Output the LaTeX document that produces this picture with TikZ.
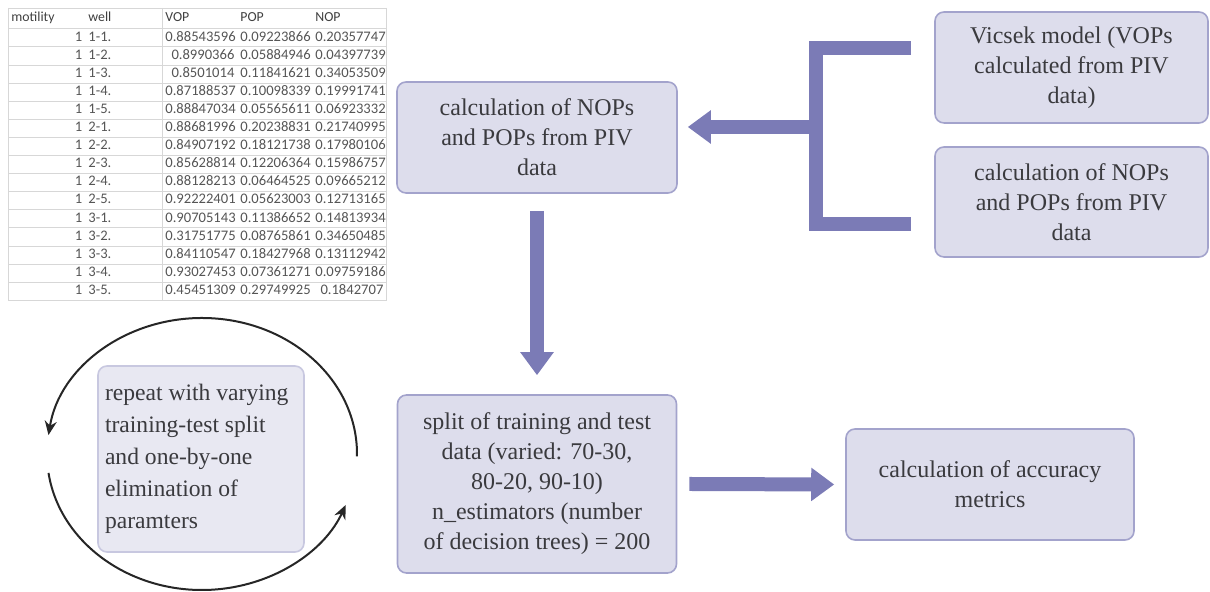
\documentclass[tikz,border=0pt]{standalone}
\usepackage{fontspec}
\setmainfont{Liberation Serif}
\newfontfamily\cellfont{Carlito}
\usepackage{tikz}
\usetikzlibrary{matrix,arrows.meta}

\definecolor{boxfill}{RGB}{221,221,236}
\definecolor{boxline}{RGB}{163,163,204}
\definecolor{loopfill}{RGB}{232,232,242}
\definecolor{loopline}{RGB}{200,200,224}
\definecolor{flow}{RGB}{123,123,182}
\definecolor{boxtext}{RGB}{58,58,62}
\definecolor{celltext}{RGB}{85,85,85}
\definecolor{gridline}{RGB}{215,215,215}

\tikzset{
  stage/.style={draw=boxline, fill=boxfill, line width=0.8pt, rounded corners=4.5pt,
    inner sep=0pt, text=boxtext, align=center, font=\fontsize{12}{15}\selectfont},
  fat/.style={draw=flow, line width=7pt, -{Triangle[length=11.5pt,width=16pt]}},
  bracket/.style={draw=flow, line width=7pt, line join=miter},
  loop/.style={draw=black!85, line width=1pt, ->},
  grid/.style={draw=gridline, line width=0.4pt},
}

\begin{document}
\begin{tikzpicture}[>={Stealth[length=7pt,width=6pt]}, x=0.5pt, y=0.5pt]
    \useasboundingbox (0,0) rectangle (1210,592);

    % data table
    \matrix (tbl) [%
      matrix of nodes,
      anchor=north west,
      inner sep=0pt,
      row sep=0pt,
      column sep=0pt,
      nodes={inner xsep=1.5pt, inner ysep=0pt, minimum height=9.05pt,
        text height=5pt, text depth=1.4pt, text=celltext, align=right,
        font=\cellfont\fontsize{7.3}{8}\selectfont},
      column 1/.style={nodes={text width=35.5pt}},
      column 2/.style={nodes={text width=35.5pt, align=left}},
      column 3/.style={nodes={text width=34.5pt}},
      column 4/.style={nodes={text width=34.5pt}},
      column 5/.style={nodes={text width=34pt}},
      row 1/.style={nodes={align=left, minimum height=10pt, text=black!75,
        font=\cellfont\fontsize{6.9}{8}\selectfont}},
    ] at (8,584)
    {
      motility & well & VOP & POP & NOP \\
      1 & 1-1. & 0.88543596 & 0.09223866 & 0.20357747 \\
      1 & 1-2. & 0.8990366 & 0.05884946 & 0.04397739 \\
      1 & 1-3. & 0.8501014 & 0.11841621 & 0.34053509 \\
      1 & 1-4. & 0.87188537 & 0.10098339 & 0.19991741 \\
      1 & 1-5. & 0.88847034 & 0.05565611 & 0.06923332 \\
      1 & 2-1. & 0.88681996 & 0.20238831 & 0.21740995 \\
      1 & 2-2. & 0.84907192 & 0.18121738 & 0.17980106 \\
      1 & 2-3. & 0.85628814 & 0.12206364 & 0.15986757 \\
      1 & 2-4. & 0.88128213 & 0.06464525 & 0.09665212 \\
      1 & 2-5. & 0.92222401 & 0.05623003 & 0.12713165 \\
      1 & 3-1. & 0.90705143 & 0.11386652 & 0.14813934 \\
      1 & 3-2. & 0.31751775 & 0.08765861 & 0.34650485 \\
      1 & 3-3. & 0.84110547 & 0.18427968 & 0.13112942 \\
      1 & 3-4. & 0.93027453 & 0.07361271 & 0.09759186 \\
      1 & 3-5. & 0.45451309 & 0.29749925 & 0.1842707 \\
    };
    \draw[grid] (tbl-1-1.north west) -- (tbl-1-5.north east);
    \foreach \r in {1,...,16}
      \draw[grid] (tbl-\r-1.south west) -- (tbl-\r-5.south east);
    \draw[grid] (tbl-1-1.north west) -- (tbl-16-1.south west);
    \draw[grid] (tbl-1-3.north west) -- (tbl-16-3.south west);
    \draw[grid] (tbl-1-5.north east) -- (tbl-16-5.south east);

    % boxes
    \node[stage, minimum width=140pt, minimum height=55.5pt] (calcpiv) at (537,454.5)
      {calculation of NOPs\\and POPs from PIV\\data};
    \node[stage, minimum width=136.5pt, minimum height=55.5pt] (vicsek) at (1071.5,524.5)
      {Vicsek model (VOPs\\calculated from PIV\\data)};
    \node[stage, minimum width=136.5pt, minimum height=55pt] (calcright) at (1071.5,390)
      {calculation of NOPs\\and POPs from PIV\\data};
    \node[stage, minimum width=139.5pt, minimum height=89pt] (split) at (537,108)
      {split of training and test\\data (varied: 70-30,\\80-20, 90-10)\\n\_estimators (number\\of decision trees) = 200};
    \node[stage, minimum width=144pt, minimum height=55.5pt] (accuracy) at (990,107.5)
      {calculation of accuracy\\metrics};
    \node[stage, draw=loopline, fill=loopfill, align=flush left, text width=96pt,
      minimum width=103pt, minimum height=93pt, font=\fontsize{11.8}{16}\selectfont,
      execute at begin node={\hyphenpenalty=10000\relax}] (repeat) at (201,133)
      {repeat with varying\\training-test split\\and one-by-one\\elimination of\\paramters};

    % connectors
    \coordinate (brtop) at (911,544);
    \coordinate (brbot) at (911,368);
    \coordinate (brjoin) at (816,465);
    \draw[bracket] (brtop) -| (brjoin) |- (brbot);
    \draw[fat] (brjoin) -- ([xshift=5pt]brjoin -| calcpiv.east);
    \draw[fat] ([yshift=-8.5pt]calcpiv.south) -- ([yshift=9.5pt]split.north);
    \draw[fat] ([xshift=6pt]split.east) -- ([xshift=-5.5pt]accuracy.west);

    % repeat loop
    \coordinate (loopc) at (202,138);
    \draw[loop] ([shift={(-1:77.5pt and 68pt)}]loopc) arc[start angle=-1, end angle=172, x radius=77.5pt, y radius=68pt];
    \draw[loop] ([shift={(188:77.5pt and 68pt)}]loopc) arc[start angle=188, end angle=338, x radius=77.5pt, y radius=68pt];
  \end{tikzpicture}
\end{document}
